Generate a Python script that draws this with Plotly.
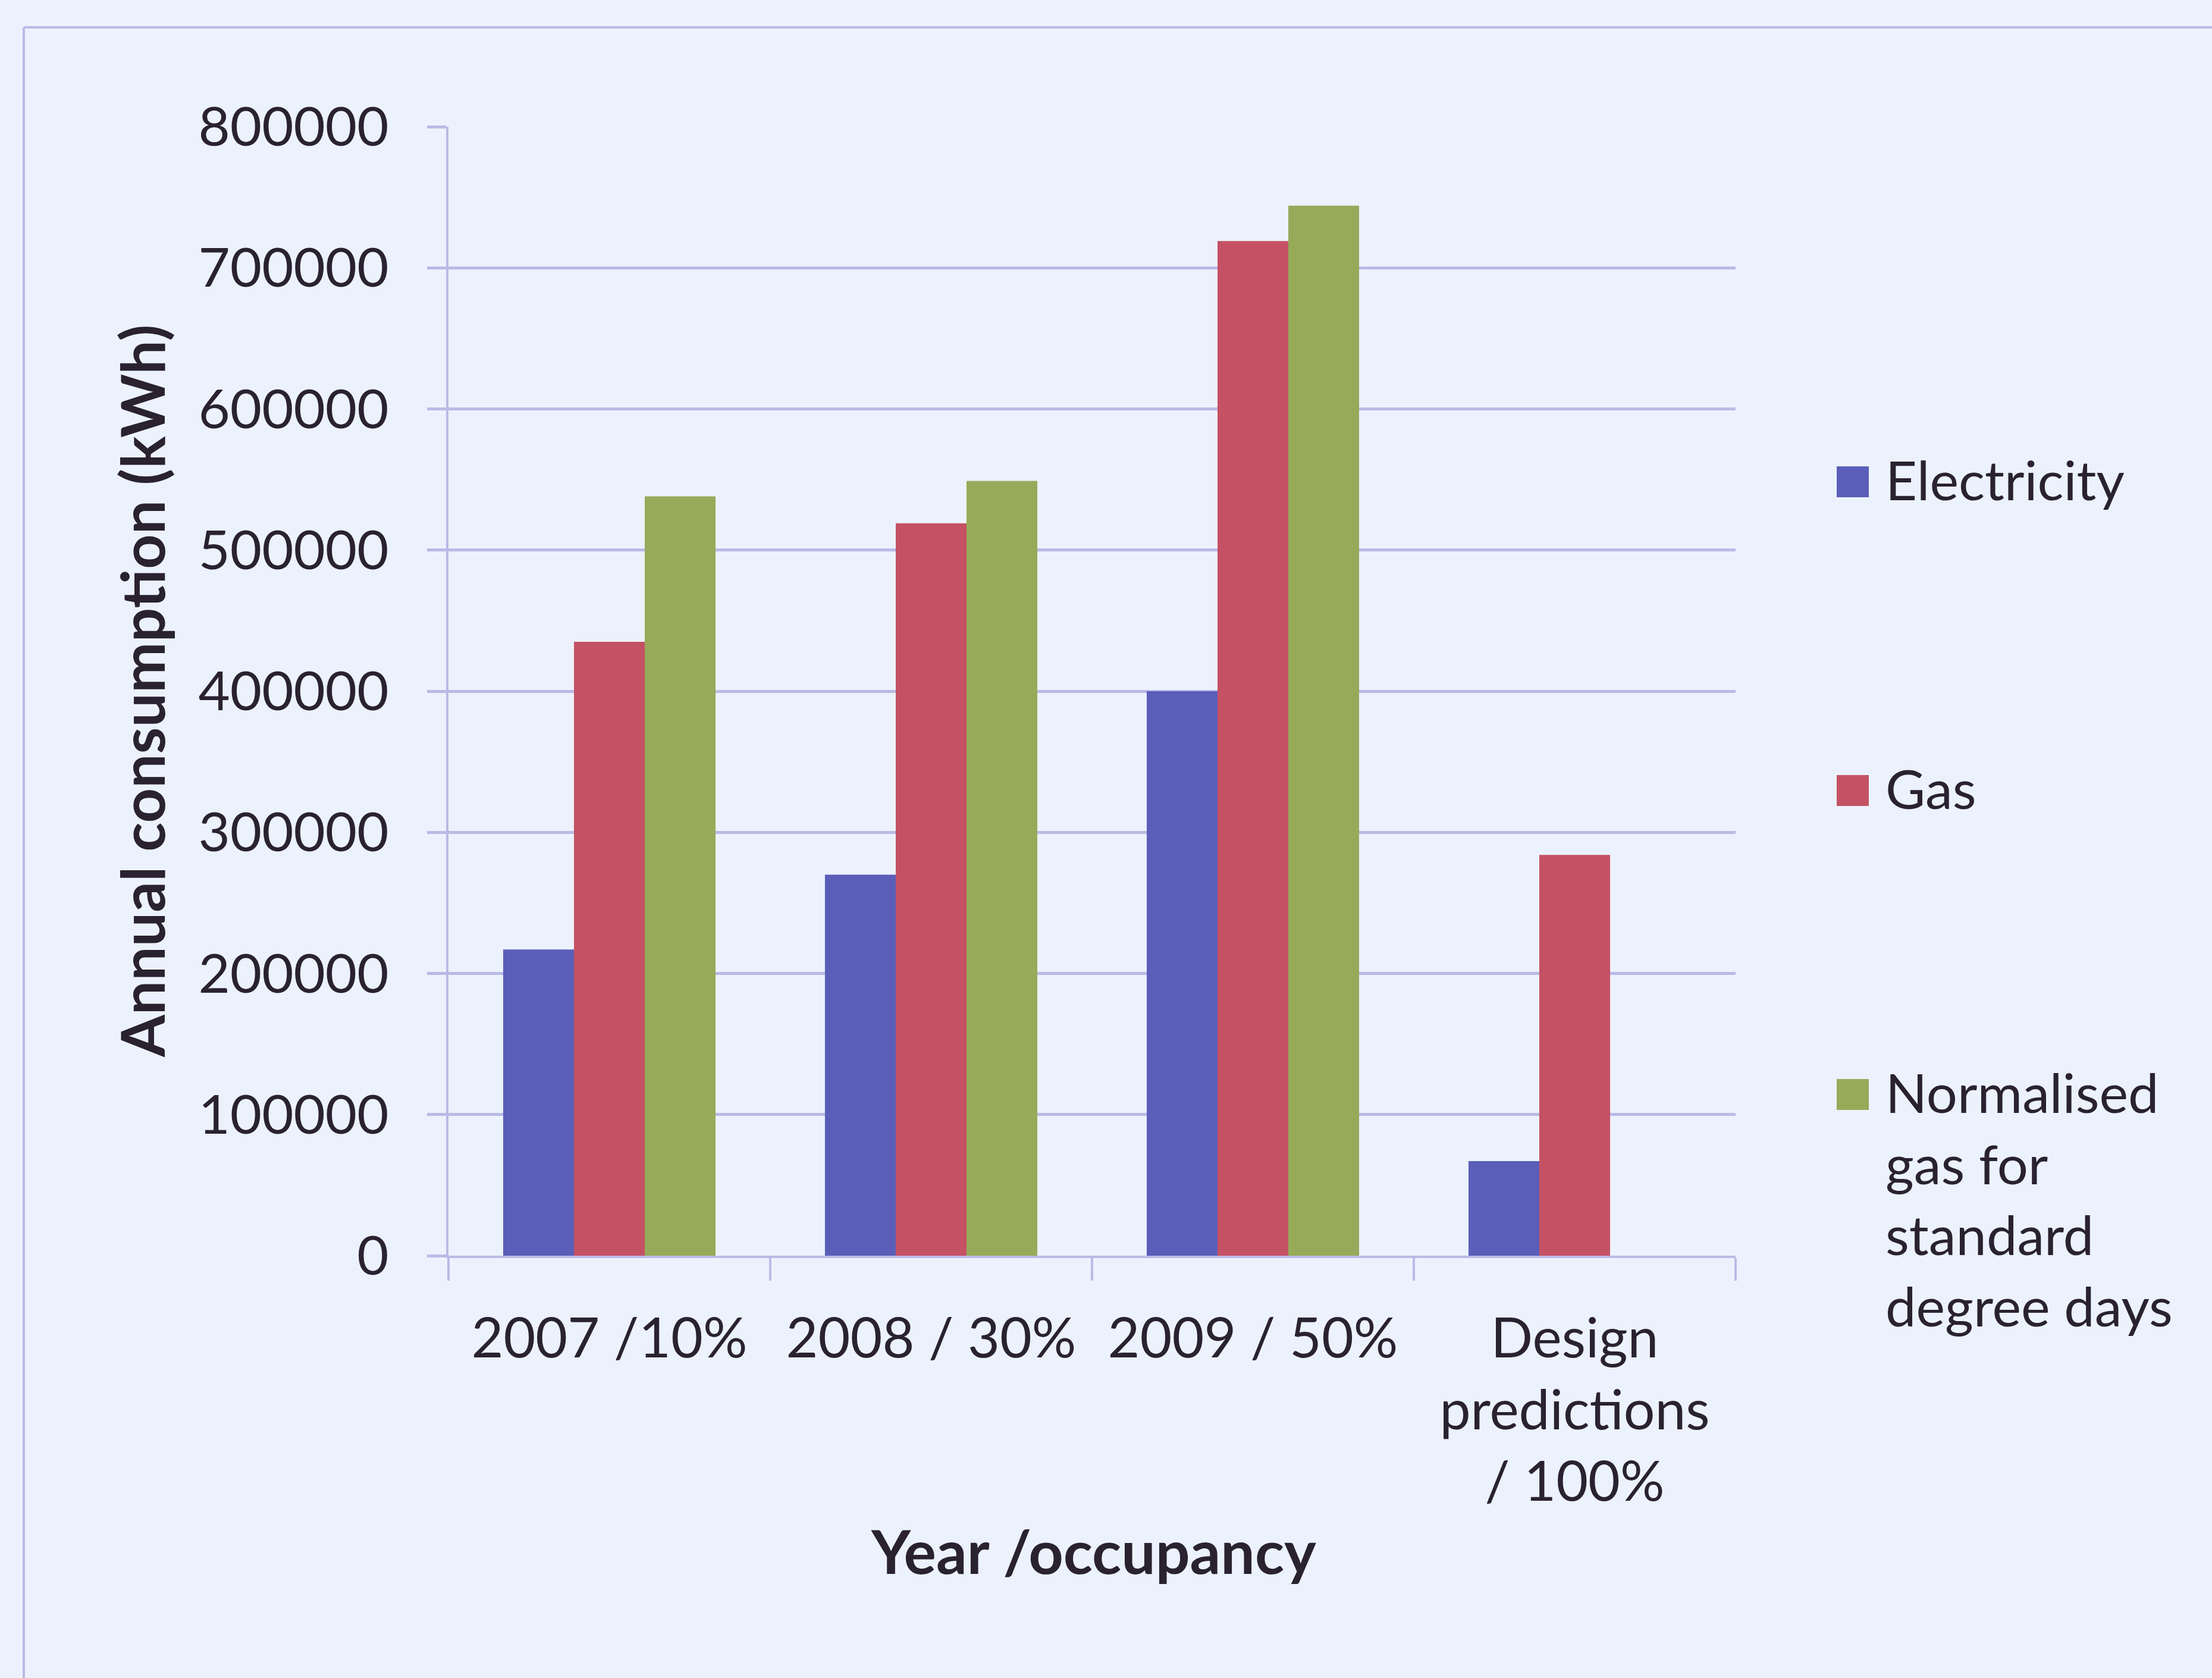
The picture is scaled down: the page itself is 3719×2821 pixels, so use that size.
import plotly.graph_objects as go

# ---- data ----
categories = ["2007 /10%", "2008 / 30%", "2009 / 50%", "Design<br>predictions<br>/ 100%"]
series_names = ["Electricity", "Gas", "Normalised<br>gas for<br>standard<br>degree days"]
electricity = [217000, 270000, 400000, 67000]
gas = [435000, 519000, 719000, 284000]
normalised_gas = [538000, 549000, 744000, None]
y_ticks = [0, 100000, 200000, 300000, 400000, 500000, 600000, 700000, 800000]

# ---- styling ----
W, H = 3719, 2821
BG = "#ECF2FD"
GRID = "#BABAE6"
TEXT = "#2A2230"
FONT = "Lato"
COLORS = ["#5A5EB9", "#C45264", "#97AA5A"]

L, R, T, B = 754, 2918, 213, 2111  # plot area in pixels


def px_x(x):
    return (x - L) / (R - L)


def px_y(y):
    return (B - y) / (B - T)


fig = go.Figure()
for name, vals, col in zip(series_names, [electricity, gas, normalised_gas], COLORS):
    fig.add_trace(go.Bar(x=categories, y=vals, name=name, marker_color=col,
                         marker_line_width=0, showlegend=False))

fig.update_layout(
    width=W, height=H,
    margin=dict(l=L, r=W - R, t=T, b=H - B, pad=0),
    paper_bgcolor=BG, plot_bgcolor=BG,
    barmode="group", bargap=0.34, bargroupgap=0,
    font=dict(family=FONT, size=92, color=TEXT),
)
fig.update_xaxes(
    showgrid=False, showline=True, linecolor=GRID, linewidth=4,
    ticks="outside", tickson="boundaries", ticklen=38, tickcolor=GRID, tickwidth=4,
    ticklabelstandoff=55, tickfont=dict(size=93, color=TEXT),
)
fig.update_yaxes(
    range=[0, 800000], tickvals=y_ticks, ticktext=[str(v) for v in y_ticks],
    showgrid=True, gridcolor=GRID, gridwidth=5,
    showline=True, linecolor=GRID, linewidth=4,
    ticks="outside", ticklen=32, tickcolor=GRID, tickwidth=5,
    ticklabelstandoff=46, tickfont=dict(size=92, color=TEXT),
    zeroline=False,
)

# outer chart border
fig.add_shape(type="line", xref="paper", yref="paper",
              x0=px_x(40), x1=px_x(40), y0=px_y(46), y1=px_y(H + 10),
              line=dict(color=GRID, width=4))
fig.add_shape(type="line", xref="paper", yref="paper",
              x0=px_x(40), x1=px_x(W + 10), y0=px_y(46), y1=px_y(46),
              line=dict(color=GRID, width=4))

# axis titles
fig.add_annotation(text="<b>Annual consumption (kWh)</b>", xref="paper", yref="paper",
                   x=px_x(237), y=px_y(1162), textangle=-90, showarrow=False,
                   font=dict(size=102, color=TEXT), xanchor="center", yanchor="middle")
fig.add_annotation(text="<b>Year /occupancy</b>", xref="paper", yref="paper",
                   x=px_x(1838), y=px_y(2606), showarrow=False,
                   font=dict(size=102, color=TEXT), xanchor="center", yanchor="middle")

# legend: coloured squares with labels
legend_y = [810, 1329, 1840]
for name, col, yy in zip(series_names, COLORS, legend_y):
    fig.add_shape(type="rect", xref="paper", yref="paper",
                  x0=px_x(3088), x1=px_x(3142), y0=px_y(yy - 26), y1=px_y(yy + 26),
                  fillcolor=col, line_width=0)
    fig.add_annotation(text=name, xref="paper", yref="paper",
                       x=px_x(3168), y=px_y(yy - 62), showarrow=False, align="left",
                       xanchor="left", yanchor="top",
                       font=dict(size=92, color=TEXT))

fig.write_html("out.html")
